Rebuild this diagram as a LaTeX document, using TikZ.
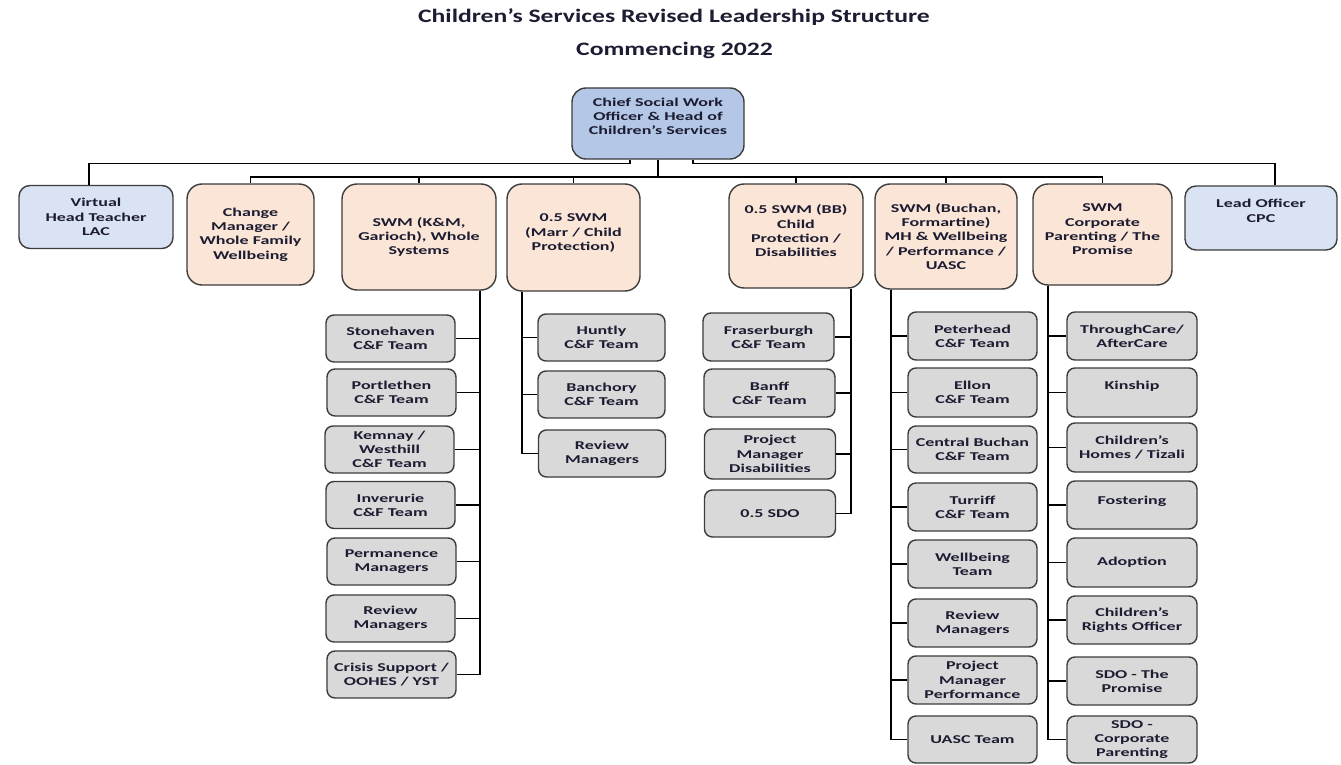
\documentclass[tikz,border=0pt]{standalone}
\usepackage{fontspec}
\setmainfont{Carlito}[FakeStretch=1.5]
\newfontfamily\titlefont{Carlito}[FakeStretch=1.35]
\definecolor{chiefc}{RGB}{180,199,231}
\definecolor{sidec}{RGB}{218,227,243}
\definecolor{mgrc}{RGB}{251,229,214}
\definecolor{teamc}{RGB}{217,217,217}
\definecolor{textc}{RGB}{28,28,50}
\definecolor{edgec}{RGB}{60,60,60}
\newcommand{\xgap}[1]{\\[#1]\mbox{}}
\tikzset{
  basebox/.style={draw=edgec, line width=1.4pt, inner sep=0pt, align=center, text=textc,
    font=\fontsize{12}{14.3}\selectfont\bfseries},
  chiefbox/.style={basebox, fill=chiefc, rounded corners=14pt},
  sidebox/.style={basebox, fill=sidec, rounded corners=11pt},
  mgrbox/.style={basebox, fill=mgrc, rounded corners=15pt},
  teambox/.style={basebox, fill=teamc, rounded corners=8pt},
  link/.style={draw=black, line width=1.3pt},
  sz/.style 2 args={minimum width=#1pt, minimum height=#2pt},
  titletext/.style={font=\titlefont\fontsize{19}{22}\selectfont\bfseries, text=textc, anchor=base, inner sep=0pt},
}
\begin{document}
\begin{tikzpicture}[x=1pt,y=-1pt]
\useasboundingbox[fill=white] (0,0) rectangle (1341,765);

\node[titletext] (title) at (674,23) {Children’s Services Revised Leadership Structure};
\node[titletext] (sub) at (674.5,56) {Commencing 2022};

% top level
\node[chiefbox, sz={172}{71}] (chief) at (658,123.5) {Chief Social Work\\Officer \& Head of\\Children's Services\xgap{0pt}};
\node[sidebox, sz={154}{63}] (vht) at (96,217) {Virtual\\Head Teacher\\LAC};
\node[sidebox, sz={152}{64}] (lead) at (1261,218) {Lead Officer\\CPC\xgap{0pt}};

% managers
\node[mgrbox, sz={127}{101}] (change) at (250.5,234.5) {Change\\Manager /\\Whole Family\\Wellbeing};
\node[mgrbox, sz={154}{106}] (km) at (419,237) {SWM (K\&M,\\Garioch), Whole\\Systems};
\node[mgrbox, sz={133}{107}] (marr) at (573.5,237.5) {0.5 SWM\\(Marr / Child\\Protection)\xgap{-4pt}};
\node[mgrbox, sz={134}{104}] (bb) at (796,236) {0.5 SWM (BB)\\Child\\Protection /\\Disabilities\xgap{-4pt}};
\node[mgrbox, sz={142}{105}] (buchan) at (946,236.5) {SWM (Buchan,\\Formartine)\\MH \& Wellbeing\\/ Performance /\\UASC};
\node[mgrbox, sz={139}{101}] (corp) at (1102.5,234.5) {SWM\\Corporate\\Parenting / The\\Promise\xgap{-4pt}};

% K&M teams
\node[teambox, sz={129}{47}] (stone) at (390.5,338.5) {Stonehaven\\C\&F Team};
\node[teambox, sz={129}{47}] (port) at (391.5,392.5) {Portlethen\\C\&F Team};
\node[teambox, sz={129}{47}] (kem) at (389.5,449.5) {Kemnay /\\Westhill\\C\&F Team};
\node[teambox, sz={129}{47}] (inv) at (390.5,505) {Inverurie\\C\&F Team};
\node[teambox, sz={129}{47}] (perm) at (391.5,561.5) {Permanence\\Managers};
\node[teambox, sz={129}{47}] (revk) at (390.5,618.5) {Review\\Managers};
\node[teambox, sz={129}{47}] (crisis) at (391.5,674.5) {Crisis Support /\\OOHES / YST};

% Marr teams
\node[teambox, sz={127}{47}] (huntly) at (601.5,337.5) {Huntly\\C\&F Team};
\node[teambox, sz={127}{47}] (banch) at (601.5,394.5) {Banchory\\C\&F Team};
\node[teambox, sz={127}{47}] (revm) at (602,453.5) {Review\\Managers};

% BB teams
\node[teambox, sz={131}{48}] (fras) at (768.5,337) {Fraserburgh\\C\&F Team};
\node[teambox, sz={131}{48}] (banff) at (769.5,393) {Banff\\C\&F Team};
\node[teambox, sz={131}{50}] (pmd) at (770,454) {Project\\Manager\\Disabilities};
\node[teambox, sz={131}{47}] (sdo) at (770,513.5) {0.5 SDO};

% Buchan teams
\node[teambox, sz={129}{48}] (peter) at (972.5,336) {Peterhead\\C\&F Team};
\node[teambox, sz={129}{49}] (ellon) at (972.5,392.5) {Ellon\\C\&F Team};
\node[teambox, sz={129}{47}] (cb) at (972.5,449.5) {Central Buchan\\C\&F Team};
\node[teambox, sz={129}{48}] (turr) at (972.5,507) {Turriff\\C\&F Team};
\node[teambox, sz={129}{48}] (wb) at (972.5,564) {Wellbeing\\Team};
\node[teambox, sz={129}{48}] (revb) at (972.5,623) {Review\\Managers};
\node[teambox, sz={129}{48}] (pmp) at (972.5,680) {Project\\Manager\\Performance};
\node[teambox, sz={129}{47}] (uasc) at (972.5,739.5) {UASC Team};

% Corporate teams
\node[teambox, sz={130}{48}] (tc) at (1132,336) {ThroughCare/\\AfterCare};
\node[teambox, sz={130}{49}] (kin) at (1132,392.5) {Kinship\xgap{0pt}};
\node[teambox, sz={130}{49}] (ch) at (1132,447.5) {Children's\\Homes / Tizali};
\node[teambox, sz={130}{48}] (fost) at (1132,505) {Fostering\xgap{-5pt}};
\node[teambox, sz={130}{49}] (adopt) at (1132,562.5) {Adoption};
\node[teambox, sz={130}{48}] (rights) at (1132,620) {Children's\\Rights Officer};
\node[teambox, sz={130}{48}] (sdop) at (1132,681) {SDO - The\\Promise};
\node[teambox, sz={130}{47}] (sdoc) at (1132,739.5) {SDO -\\Corporate\\Parenting};

% connectors: top
\coordinate (bus) at (658,177);
\draw[link] (chief.south) -- (bus);
\foreach \n in {change,km,marr,bb,buchan,corp} \draw[link] (bus) -| (\n.north);
\draw[link] ([xshift=-28pt]chief.south) -- ++(0,4) -| ([xshift=-7pt]vht.north);
\draw[link] ([xshift=35pt]chief.south) -- ++(0,4) -| ([xshift=14pt]lead.north);

% spines
\foreach \n in {stone,port,kem,inv,perm,revk,crisis} \draw[link] ([xshift=61pt]km.south) |- (\n.east);
\foreach \n in {huntly,banch,revm} \draw[link] ([xshift=-51.5pt]marr.south) |- (\n.west);
\foreach \n in {fras,banff,pmd,sdo} \draw[link] ([xshift=55pt]bb.south) |- (\n.east);
\foreach \n in {peter,ellon,cb,turr,wb,revb,pmp,uasc} \draw[link] ([xshift=-55pt]buchan.south) |- (\n.west);
\foreach \n in {tc,kin,ch,fost,adopt,rights,sdop,sdoc} \draw[link] ([xshift=-54.5pt]corp.south) |- (\n.west);
\end{tikzpicture}
\end{document}
